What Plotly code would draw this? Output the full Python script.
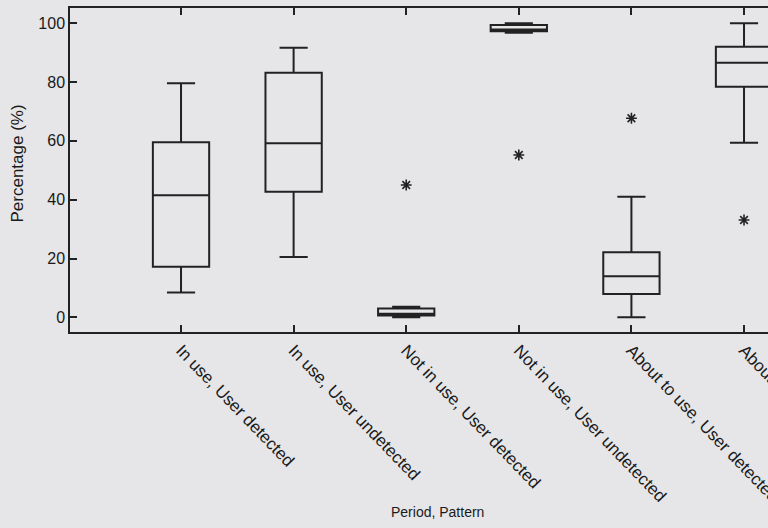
import plotly.graph_objects as go

# Five-number summaries per period/pattern group (percentages)
categories = [
    "In use, User detected",
    "In use, User undetected",
    "Not in use, User detected",
    "Not in use, User undetected",
    "About to use, User detected",
    "About to use, User undetected",
]
lower_whisker = [8.4, 20.5, 0.0, 96.8, 0.0, 59.4]
q1 = [17.2, 42.7, 0.6, 97.3, 7.9, 78.4]
median = [41.5, 59.2, 1.2, 97.9, 14.0, 86.6]
q3 = [59.5, 83.2, 3.0, 99.4, 22.1, 92.0]
upper_whisker = [79.6, 91.7, 3.6, 100.0, 41.0, 100.0]

# Outlying observations
outlier_groups = [categories[2], categories[3], categories[4], categories[5]]
outlier_values = [45.0, 55.2, 67.7, 33.1]

y_ticks = [0, 20, 40, 60, 80, 100]

ink = "#222222"
text_ink = "#1a1a1a"
paper = "#e6e6e8"
font = "Liberation Sans, Arial, sans-serif"

fig = go.Figure()
fig.add_trace(go.Box(
    x=categories,
    q1=q1,
    median=median,
    q3=q3,
    lowerfence=lower_whisker,
    upperfence=upper_whisker,
    width=0.5,
    whiskerwidth=0.5,
    fillcolor="rgba(0,0,0,0)",
    line=dict(color=ink, width=2),
    boxpoints=False,
    showlegend=False,
    hoverinfo="skip",
))
fig.add_trace(go.Scatter(
    x=outlier_groups,
    y=outlier_values,
    mode="markers",
    marker=dict(symbol="asterisk-open", size=9, color=ink,
                line=dict(color=ink, width=1.6)),
    showlegend=False,
    hoverinfo="skip",
))

fig.update_layout(
    width=768,
    height=528,
    margin=dict(l=70, r=0, t=8, b=196),
    paper_bgcolor=paper,
    plot_bgcolor=paper,
    font=dict(family=font, color=text_ink),
    xaxis=dict(
        type="category",
        categoryorder="array",
        categoryarray=categories,
        range=[-0.986, 5.213],
        showline=True,
        linecolor=ink,
        linewidth=1.5,
        mirror="ticks",
        ticks="inside",
        ticklen=7,
        tickwidth=1.5,
        tickcolor=ink,
        tickangle=46,
        tickfont=dict(size=17, family=font, color=text_ink),
        showgrid=False,
        zeroline=False,
        automargin=False,
    ),
    yaxis=dict(
        range=[-5.0, 105.2],
        tickvals=y_ticks,
        ticktext=[str(v) for v in y_ticks],
        showline=True,
        linecolor=ink,
        linewidth=1.5,
        mirror=False,
        ticks="inside",
        ticklen=7,
        tickwidth=1.5,
        tickcolor=ink,
        tickfont=dict(size=16, family=font, color=text_ink),
        showgrid=False,
        zeroline=False,
        automargin=False,
    ),
    annotations=[
        dict(text="Percentage (%)", textangle=-90, xref="paper", yref="paper",
             x=-0.0745, y=0.52, xanchor="center", yanchor="middle",
             showarrow=False, font=dict(size=17, family=font, color=text_ink)),
        dict(text="Period, Pattern", xref="paper", yref="paper",
             x=0.526, y=-0.556, xanchor="center", yanchor="middle",
             showarrow=False, font=dict(size=14, family=font, color=text_ink)),
    ],
)

fig.write_html("out.html")
